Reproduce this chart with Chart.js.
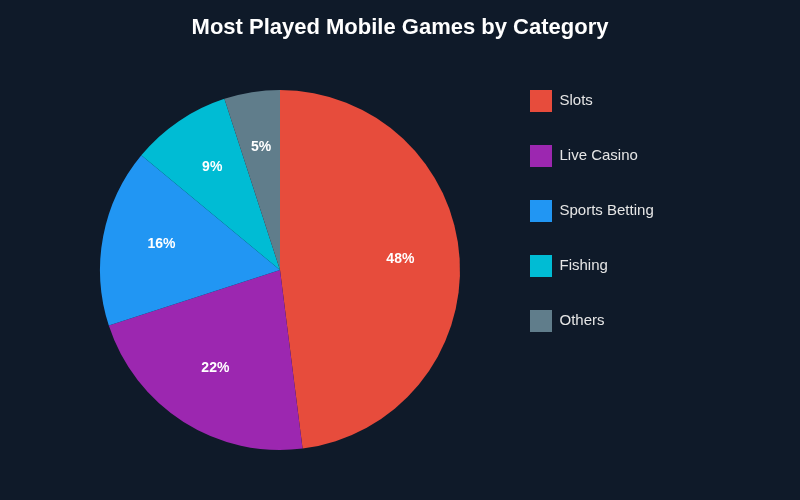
<!DOCTYPE html>
<html>
<head>
<meta charset="utf-8">
<script src="https://cdn.jsdelivr.net/npm/chart.js@4/dist/chart.umd.min.js"></script>
<style>
  html, body { margin: 0; padding: 0; background: #0f1a29; }
  #wrap { width: 800px; height: 500px; }
</style>
</head>
<body>
<div id="wrap"><canvas id="myChart"></canvas></div>
<script>
// dados do gráfico
const categories = ["Slots", "Live Casino", "Sports Betting", "Fishing", "Others"];
const shares = [48, 22, 16, 9, 5];
const sliceColors = ['#e74c3c', '#9c27b0', '#2196f3', '#00bcd4', '#607d8b'];

const FONT = '"Liberation Sans", Arial, sans-serif';

// escreve a porcentagem dentro de cada fatia
const percentLabels = {
    id: 'percentLabels',
    afterDatasetsDraw(chart) {
        const ctx = chart.ctx;
        const meta = chart.getDatasetMeta(0);
        const total = shares.reduce((a, b) => a + b, 0);
        ctx.save();
        ctx.fillStyle = '#ffffff';
        ctx.font = 'bold 14px ' + FONT;
        ctx.textAlign = 'center';
        ctx.textBaseline = 'middle';
        meta.data.forEach((arc, i) => {
            const p = arc.getProps(['x', 'y', 'startAngle', 'endAngle', 'outerRadius'], true);
            const mid = (p.startAngle + p.endAngle) / 2;
            const r = p.outerRadius * 0.67;
            const pct = Math.round(shares[i] / total * 100) + '%';
            ctx.fillText(pct, p.x + Math.cos(mid) * r, p.y + Math.sin(mid) * r - 3.5);
        });
        ctx.restore();
    }
};

// deixa a legenda mais larga, para o pie ficar à esquerda
const wideLegend = {
    id: 'wideLegend',
    beforeInit(chart) {
        const legend = chart.legend;
        if (!legend) return;
        const fit = legend.fit;
        legend.fit = function () {
            fit.call(this);
            this.width = 240;
        };
    }
};

const config = {
    type: 'pie',
    data: {
        labels: categories,
        datasets: [{
            data: shares,
            backgroundColor: sliceColors,
            borderWidth: 0,
            radius: 180
        }]
    },
    options: {
        responsive: true,
        maintainAspectRatio: false,
        animation: false,
        layout: { padding: { top: 0, bottom: 17, left: 63, right: 63 } },
        plugins: {
            title: {
                display: true,
                text: 'Most Played Mobile Games by Category',
                color: '#ffffff',
                font: { size: 22, weight: 'bold', family: FONT },
                padding: { top: 15, bottom: 15.6 }
            },
            legend: {
                position: 'right',
                align: 'start',
                fullSize: false,
                labels: {
                    color: '#e6e6e6',
                    boxWidth: 22,
                    boxHeight: 22,
                    padding: 33,
                    font: { size: 15, family: FONT }
                }
            },
            tooltip: { enabled: false }
        }
    },
    plugins: [wideLegend, percentLabels]
};

new Chart(document.getElementById('myChart'), config);
</script>
</body>
</html>
